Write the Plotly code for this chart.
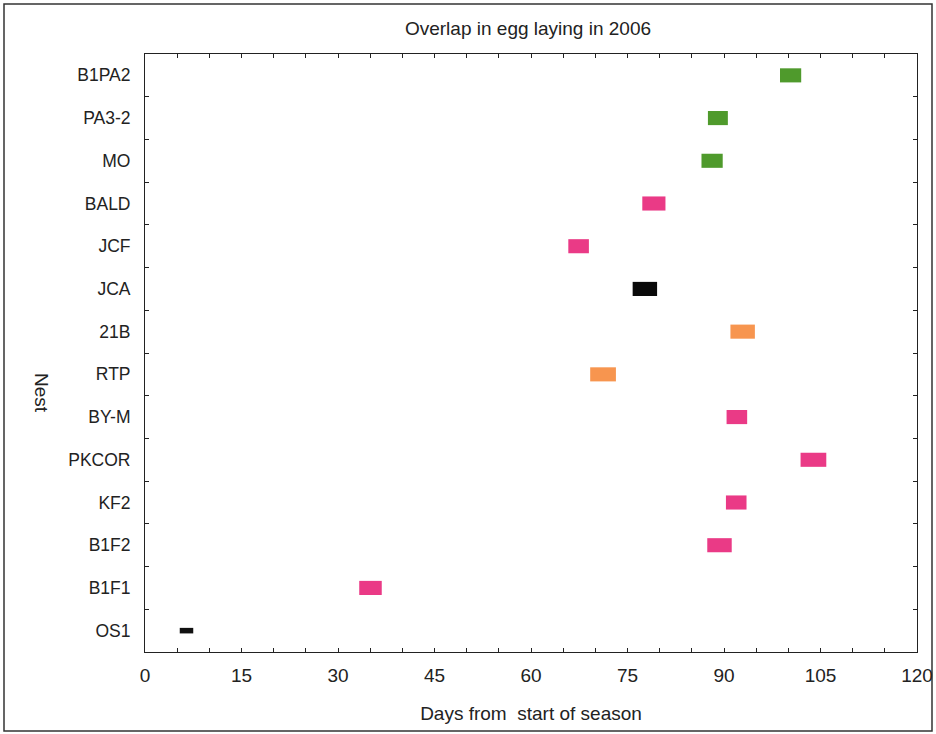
import plotly.graph_objects as go

# Nest names, listed from bottom row to top row
nests = ["OS1", "B1F1", "B1F2", "KF2", "PKCOR", "BY-M", "RTP", "21B",
         "JCA", "JCF", "BALD", "MO", "PA3-2", "B1PA2"]
# First and last day of egg laying for each nest
lay_start = [5.4, 33.3, 87.4, 90.3, 101.9, 90.4, 69.2, 91.0,
             75.8, 65.8, 77.3, 86.5, 87.5, 98.7]
lay_end = [7.5, 36.8, 91.2, 93.5, 105.9, 93.6, 73.2, 94.8,
           79.6, 69.0, 80.9, 89.8, 90.6, 102.0]
bar_colors = ["#111111", "#ea3a86", "#ea3a86", "#ea3a86", "#ea3a86", "#ea3a86",
              "#f7954f", "#f7954f", "#0a0a0a", "#ea3a86", "#ea3a86",
              "#4f9a2c", "#4f9a2c", "#4f9a2c"]
bar_widths = [0.13] + [0.33] * 13

x_tick_vals = list(range(0, 121, 5))
x_tick_text = [str(v) if v % 15 == 0 else "" for v in x_tick_vals]

durations = [e - s for s, e in zip(lay_start, lay_end)]

fig = go.Figure(go.Bar(
    y=nests,
    x=durations,
    base=lay_start,
    orientation="h",
    width=bar_widths,
    marker=dict(color=bar_colors, line=dict(width=0)),
    hoverinfo="skip",
))

FONT = "Liberation Sans, Arial, sans-serif"
TXT = "#222222"
L, R, T, B = 145, 19, 54, 82
W, H = 936, 734
pw, ph = W - L - R, H - T - B

fig.update_layout(
    width=W, height=H,
    margin=dict(l=L, r=R, t=T, b=B, autoexpand=False),
    paper_bgcolor="white",
    plot_bgcolor="white",
    showlegend=False,
    font=dict(family=FONT, size=18, color=TXT),
    title=dict(text="Overlap in egg laying in 2006", x=(L + pw / 2 - 3) / W,
               xanchor="center", y=1 - 28 / H, yanchor="middle",
               font=dict(family=FONT, size=19, color=TXT)),
    xaxis=dict(
        range=[0, 120], tickmode="array", tickvals=x_tick_vals, ticktext=x_tick_text,
        ticks="inside", ticklen=4, tickcolor="#222", tickwidth=1,
        showline=True, linecolor="#222", linewidth=1, mirror="ticks",
        showgrid=False, zeroline=False, ticklabelstandoff=6, automargin=False,
        tickfont=dict(family=FONT, size=19, color=TXT),
        title=dict(text="Days from  start of season", standoff=21,
                   font=dict(family=FONT, size=19, color=TXT)),
    ),
    yaxis=dict(
        type="category", categoryorder="array", categoryarray=nests,
        range=[-0.5, len(nests) - 0.5], tickson="boundaries",
        ticks="inside", ticklen=4, tickcolor="#222", tickwidth=1,
        showline=True, linecolor="#222", linewidth=1, mirror="ticks",
        showgrid=False, zeroline=False, ticklabelstandoff=10, automargin=False,
        tickfont=dict(family=FONT, size=17.5, color=TXT),
    ),
)

# Y axis title reads top to bottom
fig.add_annotation(
    text="Nest", textangle=90, showarrow=False,
    xref="paper", yref="paper",
    x=(42 - L) / pw, y=1 - (393 - T) / ph,
    xanchor="center", yanchor="middle",
    font=dict(family=FONT, size=19, color=TXT),
)

# Outer frame around the whole figure
fig.add_shape(
    type="rect", xref="paper", yref="paper",
    x0=(4 - L) / pw, x1=(932 - L) / pw,
    y0=1 - (731 - T) / ph, y1=1 - (4 - T) / ph,
    line=dict(color="#333333", width=1.5), fillcolor="rgba(0,0,0,0)",
    layer="below",
)

fig.write_html("out.html")
